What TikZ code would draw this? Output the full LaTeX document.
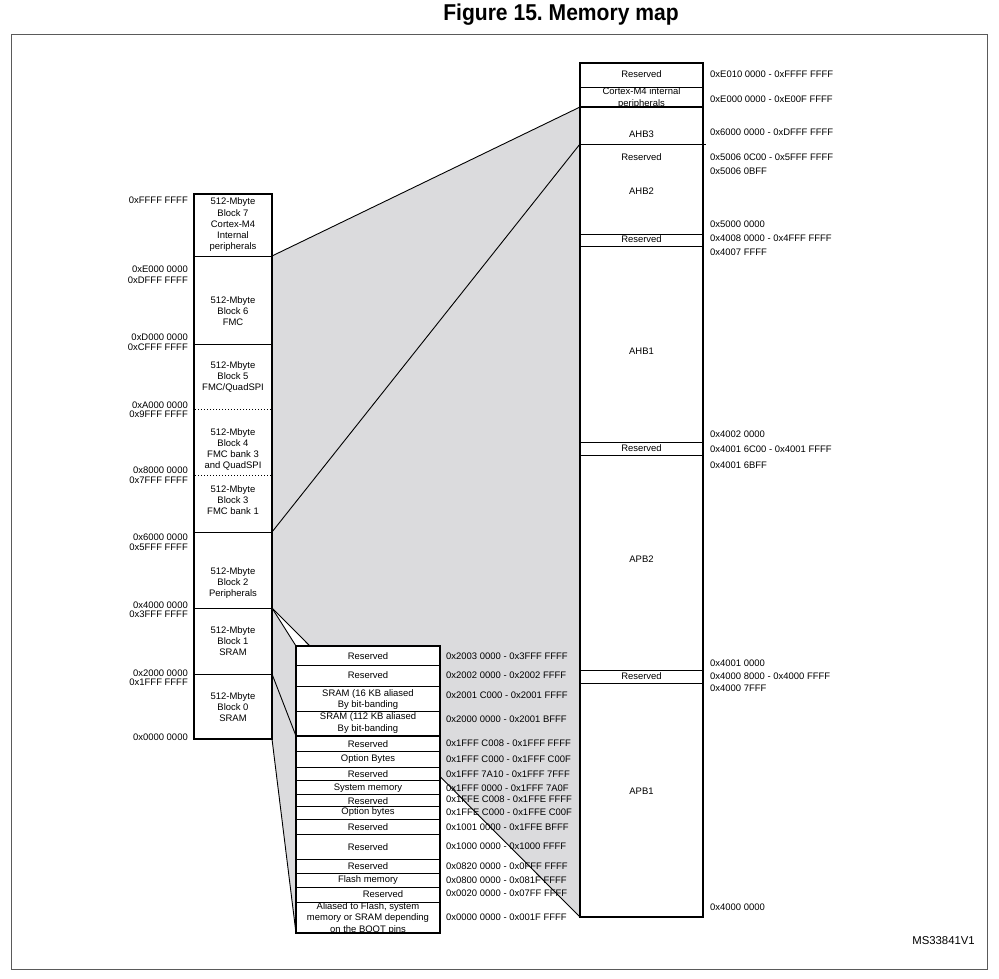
\documentclass[tikz,border=0pt]{standalone}
\usepackage{fontspec}
\setmainfont{Liberation Sans}
\frenchspacing
\definecolor{shadegray}{RGB}{219,219,221}
\definecolor{framegray}{RGB}{90,90,90}
\tikzset{
  txt/.style={font=\fontsize{9.5}{11.3}\selectfont, inner sep=0pt, align=center},
  addr/.style={font=\fontsize{9.5}{11.3}\selectfont, inner sep=0pt},
  titletext/.style={font=\fontsize{23}{27}\selectfont\bfseries, inner sep=0pt},
  msid/.style={font=\fontsize{11.4}{13}\selectfont, inner sep=0pt},
  memcol/.style={draw=black, line width=1.8bp, fill=white},
  divline/.style={draw=black, line width=0.8bp},
  thickdiv/.style={draw=black, line width=1.6bp},
  dotdiv/.style={draw=black, line width=0.8bp, dash pattern=on 1bp off 2bp},
  zoomline/.style={draw=black, line width=0.9bp},
  frameline/.style={draw=framegray, line width=1bp},
}
\begin{document}
\begin{tikzpicture}[x=1bp,y=-1bp]
\useasboundingbox (0,0) rectangle (999,979);

% title and frame
\node[titletext] (title) at (561,15) {\scalebox{0.92}[1]{Figure 15.\ Memory map}};
\draw[frameline] (11,34) rectangle (987,969);

% key points
\coordinate (Lx7) at (272,256);
\coordinate (Lx3) at (272,532);
\coordinate (Lx2) at (272,608);
\coordinate (Lx1) at (272,674);
\coordinate (Lx0) at (272,739);
\coordinate (Rtop) at (580,107);
\coordinate (Rahb) at (580,144);
\coordinate (Rbot) at (580,917);
\coordinate (Mtop) at (296,646);
\coordinate (Mmid) at (296,736);
\coordinate (Mbot) at (296,933);

% shaded zoom regions
\fill[shadegray] (Lx7) -- (Rtop) -- (Rbot) -- (Lx2) -- cycle;
\fill[shadegray] (Lx2) -- (Mtop) -- (Mbot) -- (Lx0) -- cycle;
\draw[zoomline] (Lx7) -- (Rtop);
\draw[zoomline] (Lx3) -- (Rahb);
\draw[zoomline] (Lx2) -- (Rbot);
\draw[zoomline] (Lx2) -- (Mtop);
\draw[zoomline] (Lx1) -- (Mmid);
\draw[zoomline] (Lx0) -- (Mbot);

% ---------------- left column ----------------
\draw[memcol] (194,194) rectangle (272,739);
\foreach \yy in {256,344,532,608,674} \draw[divline] (194,\yy) -- (272,\yy);
\foreach \yy in {409,475} \draw[dotdiv] (195,\yy) -- (271,\yy);

\node[txt] (b7) at (233,225) {512-Mbyte\\Block 7\\Cortex-M4\\Internal\\peripherals};
\node[txt] (b6) at (233,311) {512-Mbyte\\Block 6\\FMC};
\node[txt] (b5) at (233,377) {512-Mbyte\\Block 5\\FMC/QuadSPI};
\node[txt] (b4) at (233,449.5) {512-Mbyte\\Block 4\\FMC bank 3\\and QuadSPI};
\node[txt] (b3) at (233,500) {512-Mbyte\\Block 3\\FMC bank 1};
\node[txt] (b2) at (233,583) {512-Mbyte\\Block 2\\Peripherals};
\node[txt] (b1) at (233,641) {512-Mbyte\\Block 1\\SRAM};
\node[txt] (b0) at (233,707) {512-Mbyte\\Block 0\\SRAM};

\node[addr,anchor=east] (la1) at (188,200) {0xFFFF FFFF};
\node[addr,anchor=east] (la2) at (188,269) {0xE000 0000};
\node[addr,anchor=east] (la3) at (188,280) {0xDFFF FFFF};
\node[addr,anchor=east] (la4) at (188,337) {0xD000 0000};
\node[addr,anchor=east] (la5) at (188,347) {0xCFFF FFFF};
\node[addr,anchor=east] (la6) at (188,405) {0xA000 0000};
\node[addr,anchor=east] (la7) at (188,414) {0x9FFF FFFF};
\node[addr,anchor=east] (la8) at (188,470) {0x8000 0000};
\node[addr,anchor=east] (la9) at (188,480) {0x7FFF FFFF};
\node[addr,anchor=east] (la10) at (188,537) {0x6000 0000};
\node[addr,anchor=east] (la11) at (188,547) {0x5FFF FFFF};
\node[addr,anchor=east] (la12) at (188,605) {0x4000 0000};
\node[addr,anchor=east] (la13) at (188,614) {0x3FFF FFFF};
\node[addr,anchor=east] (la14) at (188,673) {0x2000 0000};
\node[addr,anchor=east] (la15) at (188,682) {0x1FFF FFFF};
\node[addr,anchor=east] (la16) at (188,737) {0x0000 0000};

% ---------------- right column ----------------
\draw[memcol] (580,63) rectangle (703,917);
\foreach \yy in {87,234,246,442,455,670,683} \draw[divline] (580,\yy) -- (703,\yy);
\draw[thickdiv] (580,107) -- (703,107);
\draw[divline] (580,144) -- (706,144);

\node[txt] (r1) at (641.5,74) {Reserved};
\node[txt] (r2) at (641.5,98) {Cortex-M4 internal\\peripherals};
\node[txt] (r3) at (641.5,134) {AHB3};
\node[txt] (r4) at (641.5,157) {Reserved};
\node[txt] (r5) at (641.5,191) {AHB2};
\node[txt] (r6) at (641.5,239.5) {Reserved};
\node[txt] (r7) at (641.5,351) {AHB1};
\node[txt] (r8) at (641.5,448.5) {Reserved};
\node[txt] (r9) at (641.5,559) {APB2};
\node[txt] (r10) at (641.5,676.5) {Reserved};
\node[txt] (r11) at (641.5,791) {APB1};

\node[addr,anchor=west] (ra1) at (710,74) {0xE010 0000 - 0xFFFF FFFF};
\node[addr,anchor=west] (ra2) at (710,99) {0xE000 0000 - 0xE00F FFFF};
\node[addr,anchor=west] (ra3) at (710,132) {0x6000 0000 - 0xDFFF FFFF};
\node[addr,anchor=west] (ra4) at (710,157) {0x5006 0C00 - 0x5FFF FFFF};
\node[addr,anchor=west] (ra5) at (710,171) {0x5006 0BFF};
\node[addr,anchor=west] (ra6) at (710,224) {0x5000 0000};
\node[addr,anchor=west] (ra7) at (710,238) {0x4008 0000 - 0x4FFF FFFF};
\node[addr,anchor=west] (ra8) at (710,252) {0x4007 FFFF};
\node[addr,anchor=west] (ra9) at (710,434) {0x4002 0000};
\node[addr,anchor=west] (ra10) at (710,449) {0x4001 6C00 - 0x4001 FFFF};
\node[addr,anchor=west] (ra11) at (710,465) {0x4001 6BFF};
\node[addr,anchor=west] (ra12) at (710,663) {0x4001 0000};
\node[addr,anchor=west] (ra13) at (710,676) {0x4000 8000 - 0x4000 FFFF};
\node[addr,anchor=west] (ra14) at (710,688) {0x4000 7FFF};
\node[addr,anchor=west] (ra15) at (710,907) {0x4000 0000};

% ---------------- middle detail box ----------------
\draw[memcol] (296,646) rectangle (440,933);
\foreach \yy in {665,686,711,751,767,780,794,806,819,834,859,873,887,902} \draw[divline] (296,\yy) -- (440,\yy);
\draw[thickdiv] (296,736) -- (440,736);

\node[txt] (m1) at (368,656) {Reserved};
\node[txt] (m2) at (368,675) {Reserved};
\node[txt] (m3) at (368,699.5) {SRAM (16 KB aliased\\By bit-banding};
\node[txt] (m4) at (368,723) {SRAM (112 KB aliased\\By bit-banding};
\node[txt] (m5) at (368,744) {Reserved};
\node[txt] (m6) at (368,759) {Option Bytes};
\node[txt] (m7) at (368,774) {Reserved};
\node[txt] (m8) at (368,788.5) {System memory};
\node[txt] (m9) at (368,801) {Reserved};
\node[txt] (m10) at (368,812.5) {Option bytes};
\node[txt] (m11) at (368,827) {Reserved};
\node[txt] (m12) at (368,847) {Reserved};
\node[txt] (m13) at (368,866) {Reserved};
\node[txt] (m14) at (368,880) {Flash memory};
\node[txt] (m15) at (383,894) {Reserved};
\node[txt] (m16) at (368,918.5) {Aliased to Flash, system\\memory or SRAM depending\\on the BOOT pins};

\node[addr,anchor=west] (ma1) at (446,656) {0x2003 0000 - 0x3FFF FFFF};
\node[addr,anchor=west] (ma2) at (446,675.5) {0x2002 0000 - 0x2002 FFFF};
\node[addr,anchor=west] (ma3) at (446,695.5) {0x2001 C000 - 0x2001 FFFF};
\node[addr,anchor=west] (ma4) at (446,719.5) {0x2000 0000 - 0x2001 BFFF};
\node[addr,anchor=west] (ma5) at (446,743.5) {0x1FFF C008 - 0x1FFF FFFF};
\node[addr,anchor=west] (ma6) at (446,759) {0x1FFF C000 - 0x1FFF C00F};
\node[addr,anchor=west] (ma7) at (446,774.5) {0x1FFF 7A10 - 0x1FFF 7FFF};
\node[addr,anchor=west] (ma8) at (446,788) {0x1FFF 0000 - 0x1FFF 7A0F};
\node[addr,anchor=west] (ma9) at (446,799.5) {0x1FFE C008 - 0x1FFE FFFF};
\node[addr,anchor=west] (ma10) at (446,812) {0x1FFE C000 - 0x1FFE C00F};
\node[addr,anchor=west] (ma11) at (446,827.5) {0x1001 0000 - 0x1FFE BFFF};
\node[addr,anchor=west] (ma12) at (446,846) {0x1000 0000 - 0x1000 FFFF};
\node[addr,anchor=west] (ma13) at (446,866) {0x0820 0000 - 0x0FFF FFFF};
\node[addr,anchor=west] (ma14) at (446,880.5) {0x0800 0000 - 0x081F FFFF};
\node[addr,anchor=west] (ma15) at (446,893.5) {0x0020 0000 - 0x07FF FFFF};
\node[addr,anchor=west] (ma16) at (446,917.5) {0x0000 0000 - 0x001F FFFF};

% document id
\node[msid,anchor=east] (msid) at (975,941) {MS33841V1};
\end{tikzpicture}
\end{document}
